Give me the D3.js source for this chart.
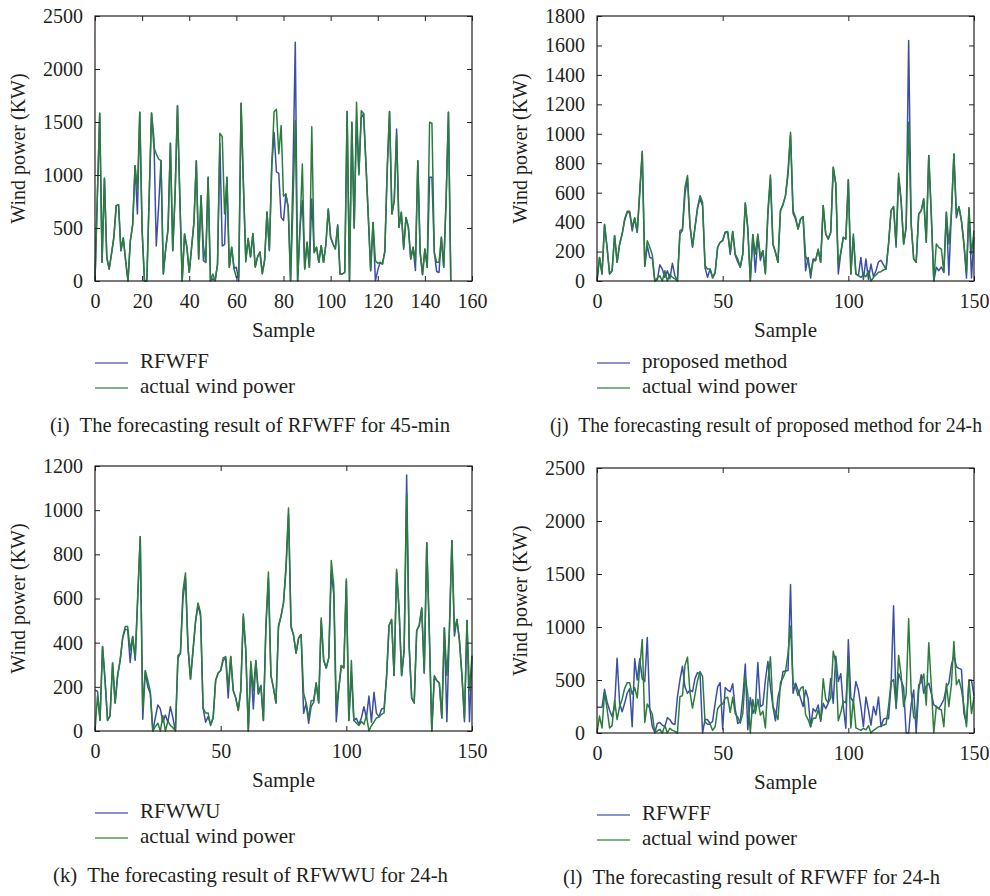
<!DOCTYPE html>
<html>
<head>
<meta charset="utf-8">
<script src="https://cdn.jsdelivr.net/npm/d3@7"></script>
<style>
  body { margin: 0; background: #fff; }
  svg text { font-family: "Liberation Serif", "DejaVu Serif", serif; fill: #231f20; }
</style>
</head>
<body>
<div id="chart"></div>
<script>
var pal = {
  "blue": "#3b4fa6",
  "green": "#2b7d3b",
  "axis": "#231f20"
};

// (i) 45-min forecast, sample 0..151
var actual45 = [
  0, 800, 1582, 176, 969, 223, 113, 255, 412, 711,
  720, 286, 406, 192, 0, 380, 531, 1088, 868, 1591,
  475, 0, 0, 800, 1585, 1261, 1198, 1151, 1135, 66,
  302, 490, 1299, 286, 821, 1654, 789, 0, 443, 318,
  82, 318, 553, 1135, 208, 805, 333, 176, 978, 0,
  66, 3, 160, 1393, 1362, 632, 978, 129, 318, 113,
  35, 35, 1676, 900, 180, 400, 227, 447, 132, 227,
  274, 69, 200, 652, 296, 1077, 1597, 1619, 1200, 1466,
  800, 820, 695, 3, 700, 1513, 0, 500, 1104, 113,
  365, 129, 1456, 270, 318, 176, 333, 176, 349, 679,
  412, 349, 302, 522, 66, 66, 82, 1598, 0, 1497,
  500, 1686, 1000, 1607, 1580, 1100, 600, 97, 553, 192,
  167, 176, 160, 280, 1041, 1598, 632, 758, 1380, 506,
  648, 318, 600, 506, 208, 318, 192, 1135, 270, 60,
  302, 129, 1497, 1488, 270, 176, 176, 412, 129, 758,
  1591, 0
];
var rfwff45 = [
  0, 800, 1582, 176, 969, 223, 113, 255, 412, 711,
  720, 286, 406, 192, 0, 380, 531, 1088, 632, 1591,
  475, 0, 0, 800, 1585, 1346, 330, 700, 1135, 66,
  302, 490, 1299, 286, 821, 1654, 789, 0, 443, 318,
  82, 318, 553, 1135, 208, 805, 192, 176, 978, 0,
  20, 3, 160, 1300, 330, 345, 978, 129, 318, 120,
  130, 0, 1676, 900, 200, 400, 227, 447, 132, 227,
  274, 69, 200, 652, 286, 1080, 1400, 1030, 1016, 600,
  570, 820, 695, 3, 1000, 2252, 0, 500, 760, 113,
  365, 129, 774, 270, 318, 176, 333, 176, 349, 679,
  412, 349, 302, 531, 66, 66, 82, 1598, 0, 1497,
  500, 1513, 1016, 1540, 1580, 1100, 600, 97, 553, 3,
  100, 176, 160, 280, 1041, 1598, 632, 758, 1434, 506,
  648, 300, 600, 506, 208, 318, 100, 1135, 270, 60,
  302, 129, 978, 978, 270, 90, 80, 412, 129, 758,
  1591, 0
];

// 24-h forecasts, sample 0..150
var actual24 = [
  0, 160, 48, 383, 229, 48, 70, 308, 127, 251,
  319, 421, 473, 473, 365, 428, 331, 614, 881, 100,
  274, 229, 179, 0, 20, 35, 0, 70, 0, 45,
  25, 15, 0, 342, 353, 636, 716, 380, 235, 365,
  496, 580, 535, 104, 82, 82, 25, 59, 229, 263,
  274, 331, 337, 195, 337, 183, 150, 93, 183, 530,
  365, 0, 315, 183, 319, 168, 206, 48, 478, 720,
  251, 195, 127, 478, 519, 580, 750, 1010, 478, 433,
  353, 421, 437, 172, 127, 59, 138, 138, 217, 127,
  512, 319, 285, 331, 772, 659, 115, 195, 297, 285,
  688, 48, 319, 48, 36, 25, 43, 30, 70, 0,
  25, 41, 59, 63, 75, 82, 251, 478, 505, 251,
  732, 546, 251, 365, 1078, 387, 150, 127, 455, 478,
  557, 263, 852, 455, 0, 251, 229, 217, 59, 467,
  251, 455, 863, 455, 505, 410, 251, 59, 500, 183,
  342
];
var proposed24 = [
  0, 160, 48, 383, 229, 48, 70, 308, 127, 251,
  319, 410, 465, 465, 340, 428, 331, 590, 870, 100,
  240, 160, 155, 0, 10, 110, 80, 25, 70, 15,
  120, 36, 0, 320, 345, 590, 700, 370, 230, 365,
  496, 560, 510, 90, 25, 82, 20, 55, 229, 263,
  274, 331, 330, 180, 337, 175, 130, 93, 183, 530,
  350, 0, 315, 59, 300, 140, 206, 55, 450, 700,
  251, 195, 127, 478, 519, 580, 720, 990, 460, 420,
  353, 421, 437, 70, 160, 20, 150, 145, 210, 127,
  512, 319, 285, 331, 772, 659, 48, 190, 297, 285,
  688, 48, 300, 48, 36, 160, 10, 150, 10, 115,
  30, 70, 130, 140, 110, 80, 251, 478, 505, 230,
  700, 546, 251, 365, 1633, 387, 150, 127, 455, 478,
  557, 263, 852, 455, 0, 93, 70, 95, 59, 467,
  40, 455, 863, 430, 505, 410, 251, 20, 490, 20,
  300
];
var rfwwu24 = [
  185, 180, 50, 383, 229, 48, 70, 308, 127, 251,
  319, 421, 460, 460, 310, 428, 320, 600, 880, 53,
  270, 200, 170, 0, 60, 118, 100, 40, 72, 40,
  110, 60, 0, 330, 353, 600, 690, 380, 235, 365,
  496, 570, 520, 104, 40, 65, 30, 59, 229, 263,
  274, 320, 330, 150, 337, 183, 150, 93, 183, 520,
  365, 0, 300, 100, 317, 168, 206, 48, 470, 690,
  251, 195, 127, 470, 519, 580, 730, 980, 470, 433,
  353, 421, 437, 80, 125, 35, 110, 130, 217, 127,
  500, 319, 285, 331, 714, 620, 42, 190, 297, 285,
  680, 48, 260, 48, 57, 30, 60, 110, 60, 158,
  40, 175, 80, 65, 100, 103, 240, 478, 505, 251,
  720, 546, 251, 365, 1159, 380, 150, 127, 455, 478,
  557, 263, 852, 455, 0, 240, 229, 217, 59, 467,
  42, 455, 863, 430, 505, 410, 251, 42, 500, 42,
  337
];
var rfwff24 = [
  242, 242, 242, 412, 295, 215, 155, 250, 705, 280,
  200, 280, 375, 420, 60, 700, 500, 700, 510, 485,
  900, 230, 60, 5, 90, 100, 75, 60, 145, 125,
  90, 80, 340, 500, 630, 435, 375, 405, 390, 515,
  570, 560, 0, 130, 125, 90, 110, 280, 435, 475,
  35, 430, 405, 390, 465, 225, 90, 110, 335, 650,
  30, 335, 185, 250, 665, 250, 265, 500, 675, 435,
  250, 115, 340, 435, 580, 585, 590, 1400, 375, 470,
  405, 325, 250, 405, 325, 60, 230, 200, 265, 110,
  280, 230, 280, 515, 280, 725, 485, 560, 250, 45,
  880, 330, 295, 485, 405, 250, 60, 340, 215, 75,
  250, 170, 340, 60, 130, 140, 135, 450, 1200, 230,
  560, 500, 430, 0, 0, 270, 405, 0, 405, 550,
  375, 440, 470, 375, 265, 250, 230, 270, 315, 435,
  470, 640, 735, 625, 610, 600, 185, 90, 500, 500,
  350
];

var xTicks160 = [0, 20, 40, 60, 80, 100, 120, 140, 160];
var xTicks150 = [0, 50, 100, 150];
var yTicks2500 = [0, 500, 1000, 1500, 2000, 2500];
var yTicks1800 = [0, 200, 400, 600, 800, 1000, 1200, 1400, 1600, 1800];
var yTicks1200 = [0, 200, 400, 600, 800, 1000, 1200];

var panels = [
  {left: 95, top: 16, xmax: 160, xticks: xTicks160, ymax: 2500, yticks: yTicks2500,
   pred: rfwff45, actual: actual45, name: "RFWFF", capX: 50, capW: 400, capSize: 21,
   caption: "(i)  The forecasting result of RFWFF for 45-min"},
  {left: 597, top: 16, xmax: 150, xticks: xTicks150, ymax: 1800, yticks: yTicks1800,
   pred: proposed24, actual: actual24, name: "proposed method", capX: 550, capW: 432, capSize: 20,
   caption: "(j)  The forecasting result of proposed method for 24-h"},
  {left: 95, top: 466, xmax: 150, xticks: xTicks150, ymax: 1200, yticks: yTicks1200,
   pred: rfwwu24, actual: actual24, name: "RFWWU", capX: 53, capW: 395, capSize: 21,
   caption: "(k)  The forecasting result of RFWWU for 24-h"},
  {left: 597, top: 468, xmax: 150, xticks: xTicks150, ymax: 2500, yticks: yTicks2500,
   pred: rfwff24, actual: actual24, name: "RFWFF", capX: 563, capW: 377, capSize: 21,
   caption: "(l)  The forecasting result of RFWFF for 24-h"}
];

var width = 377, height = 265;

var svg = d3.select("#chart").append("svg")
    .attr("width", 990)
    .attr("height", 896);

panels.forEach(function(p){

  var g = svg.append("g")
      .attr("transform", "translate(" + p.left + "," + p.top + ")");

  var x = d3.scaleLinear().domain([0, p.xmax]).range([0, width]);
  var y = d3.scaleLinear().domain([0, p.ymax]).range([height, 0]);

  // lines: forecast under, actual on top
  var line = d3.line()
      .x(function(d, i) { return x(i); })
      .y(function(d) { return y(d); });

  g.append("path")
      .datum(p.pred)
      .attr("fill", "none")
      .attr("stroke", pal.blue)
      .attr("stroke-width", 1.5)
      .attr("stroke-linejoin", "round")
      .attr("d", line);

  g.append("path")
      .datum(p.actual)
      .attr("fill", "none")
      .attr("stroke", pal.green)
      .attr("stroke-width", 1.5)
      .attr("stroke-linejoin", "round")
      .attr("d", line);

  // inward ticks on all four sides, MATLAB style box
  var tl = 5;
  var fmt = d3.format("d");
  g.append("g")
      .attr("class", "axis")
      .attr("transform", "translate(0," + height + ")")
      .call(d3.axisBottom(x).tickValues(p.xticks).tickFormat(fmt).tickSizeInner(-tl).tickSizeOuter(0).tickPadding(tl + 8))
      .call(function(a){ a.select(".domain").remove(); });
  g.append("g")
      .call(d3.axisTop(x).tickValues(p.xticks).tickSizeInner(-tl).tickSizeOuter(0).tickFormat(""))
      .call(function(a){ a.select(".domain").remove(); });
  g.append("g")
      .attr("class", "axis")
      .call(d3.axisLeft(y).tickValues(p.yticks).tickFormat(fmt).tickSizeInner(-tl).tickSizeOuter(0).tickPadding(tl + 7))
      .call(function(a){ a.select(".domain").remove(); });
  g.append("g")
      .attr("transform", "translate(" + width + ",0)")
      .call(d3.axisRight(y).tickValues(p.yticks).tickSizeInner(-tl).tickSizeOuter(0).tickFormat(""))
      .call(function(a){ a.select(".domain").remove(); });

  g.selectAll(".tick line").attr("stroke", pal.axis);
  g.selectAll(".axis text")
      .attr("font-size", "20px")
      .attr("font-family", "Liberation Serif, serif")
      .attr("fill", pal.axis);

  g.append("rect")
      .attr("width", width)
      .attr("height", height)
      .attr("fill", "none")
      .attr("stroke", pal.axis)
      .attr("stroke-width", 1.2);

  g.append("text")
      .attr("x", width / 2)
      .attr("y", height + 51)
      .attr("text-anchor", "middle")
      .attr("dominant-baseline", "middle")
      .attr("font-size", "21px")
      .text("Sample");

  g.append("text")
      .attr("transform", "translate(-75," + (height / 2) + ") rotate(-90)")
      .attr("text-anchor", "middle")
      .attr("dominant-baseline", "middle")
      .attr("font-size", "20px")
      .text("Wind power (KW)");

  // legend
  var leg = [{label: p.name, color: pal.blue, dy: 82}, {label: "actual wind power", color: pal.green, dy: 107}];
  leg.forEach(function(l){
    g.append("line")
        .attr("x1", 0).attr("x2", 33)
        .attr("y1", height + l.dy).attr("y2", height + l.dy)
        .attr("stroke", l.color)
        .attr("stroke-opacity", 0.8)
        .attr("stroke-width", 1.3);
    g.append("text")
        .attr("x", 45)
        .attr("y", height + l.dy)
        .attr("dominant-baseline", "middle")
        .attr("font-size", "21px")
        .text(l.label);
  });

  // caption, fitted to the width it takes in the figure
  svg.append("text")
      .attr("x", p.capX)
      .attr("y", p.top + height + 146)
      .attr("dominant-baseline", "middle")
      .attr("font-size", p.capSize + "px")
      .attr("textLength", p.capW)
      .attr("lengthAdjust", "spacingAndGlyphs")
      .style("white-space", "pre")
      .text(p.caption);
});
</script>
</body>
</html>
